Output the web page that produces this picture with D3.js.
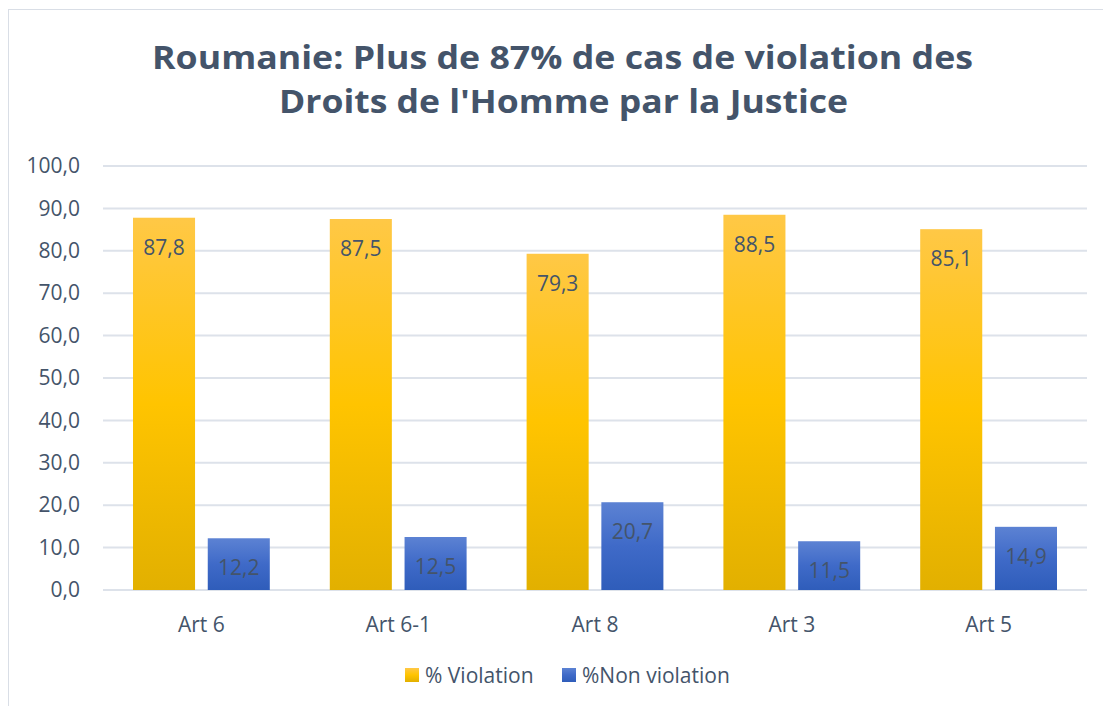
<!DOCTYPE html>
<html>
<head>
<meta charset="utf-8">
<script src="https://cdn.jsdelivr.net/npm/d3@7"></script>
<style>
  body { margin: 0; background: #fff; }
  text { font-family: "Open Sans", sans-serif; fill: #44546A; }
</style>
</head>
<body>
<script>
// data
const categories = ["Art 6", "Art 6-1", "Art 8", "Art 3", "Art 5"];
const seriesNames = ["% Violation", "%Non violation"];
const violation = [87.8, 87.5, 79.3, 88.5, 85.1];
const nonViolation = [12.2, 12.5, 20.7, 11.5, 14.9];
const yTicks = [0, 10, 20, 30, 40, 50, 60, 70, 80, 90, 100];
const titleLines = ["Roumanie: Plus de 87% de cas de violation des", "Droits de l'Homme par la Justice"];

const W = 1103, H = 706;
const margin = {left: 103, right: 16, top: 166, bottom: 116};
const width = W - margin.left - margin.right;
const height = H - margin.top - margin.bottom;

const svg = d3.select("body").append("svg")
  .attr("width", W)
  .attr("height", H);

// chart border (right/bottom outside of picture)
svg.append("rect")
  .attr("x", 8.5).attr("y", 9.5)
  .attr("width", W + 20).attr("height", H + 20)
  .attr("fill", "none")
  .attr("stroke", "#D9DEE6")
  .attr("stroke-width", 1);

const defs = svg.append("defs");
const gradY = defs.append("linearGradient").attr("id", "gY")
  .attr("x1", 0).attr("y1", 0).attr("x2", 0).attr("y2", 1);
gradY.append("stop").attr("offset", "0%").attr("stop-color", "#FFC846");
gradY.append("stop").attr("offset", "50%").attr("stop-color", "#FFC400");
gradY.append("stop").attr("offset", "100%").attr("stop-color", "#E2B000");
const gradB = defs.append("linearGradient").attr("id", "gB")
  .attr("x1", 0).attr("y1", 0).attr("x2", 0).attr("y2", 1);
gradB.append("stop").attr("offset", "0%").attr("stop-color", "#5C82D3");
gradB.append("stop").attr("offset", "50%").attr("stop-color", "#3F6AC8");
gradB.append("stop").attr("offset", "100%").attr("stop-color", "#2F5DBA");
const fills = ["url(#gY)", "url(#gB)"];

// title
svg.append("g").selectAll("text")
  .data(titleLines)
  .enter().append("text")
  .attr("x", (d, i) => i == 0 ? 152 : 279)
  .attr("y", (d, i) => 69 + i * 44)
  .attr("textLength", (d, i) => i == 0 ? 821 : 569)
  .attr("lengthAdjust", "spacingAndGlyphs")
  .style("font-size", "32px")
  .style("font-weight", "bold")
  .text(d => d);

const g = svg.append("g")
  .attr("transform", "translate(" + margin.left + "," + margin.top + ")");

const y = d3.scaleLinear().domain([0, 100]).range([height, 0]);
const x = d3.scaleBand().domain(categories).range([0, width]).paddingInner(0).paddingOuter(0);
const xs = d3.scaleBand().domain(seriesNames).range([30, x.bandwidth() - 30]).paddingInner(0.17);

// gridlines
g.append("g").selectAll("line")
  .data(yTicks)
  .enter().append("line")
  .attr("x1", 0).attr("x2", width)
  .attr("y1", d => y(d)).attr("y2", d => y(d))
  .attr("stroke", "#DDE2EA")
  .attr("stroke-width", 2);

// y axis labels
const yAxis = d3.axisLeft(y).tickValues(yTicks)
  .tickFormat(d => d3.format(".1f")(d).replace(".", ","))
  .tickSize(0).tickPadding(23);
g.append("g").attr("class", "y-axis").call(yAxis)
  .call(a => a.select(".domain").remove())
  .selectAll("text")
  .style("font-size", "21px")
  .style("font-family", "'Open Sans', sans-serif");

// x axis labels
const xAxis = d3.axisBottom(x).tickSize(0).tickPadding(27);
g.append("g").attr("class", "x axis")
  .attr("transform", "translate(0," + height + ")")
  .call(xAxis)
  .call(a => a.select(".domain").remove())
  .selectAll("text")
  .style("font-size", "21px")
  .style("font-family", "'Open Sans', sans-serif");

const rows = [];
categories.forEach((c, i) => {
  rows.push({cat: c, s: 0, v: violation[i]});
  rows.push({cat: c, s: 1, v: nonViolation[i]});
});

g.selectAll("rect.bar")
  .data(rows)
  .enter().append("rect")
  .attr("class", "bar")
  .attr("x", d => x(d.cat) + xs(seriesNames[d.s]))
  .attr("y", d => y(d.v))
  .attr("width", xs.bandwidth())
  .attr("height", d => height - y(d.v))
  .attr("fill", d => fills[d.s]);

g.selectAll("text.val")
  .data(rows)
  .enter().append("text")
  .attr("class", "val")
  .attr("x", d => x(d.cat) + xs(seriesNames[d.s]) + xs.bandwidth() / 2)
  .attr("y", d => y(d.v) + 37)
  .attr("text-anchor", "middle")
  .style("font-size", "21px")
  .text(d => d3.format(".1f")(d.v).replace(".", ","));

// legend
const legend = svg.append("g").attr("transform", "translate(405,668)");
const legX = [0, 157];
const li = legend.selectAll("g")
  .data(seriesNames)
  .enter().append("g")
  .attr("transform", (d, i) => "translate(" + legX[i] + ",0)");
li.append("rect")
  .attr("width", 14).attr("height", 14)
  .attr("fill", (d, i) => fills[i]);
li.append("text")
  .attr("x", 20).attr("y", 15)
  .style("font-size", "21px")
  .text(d => d);
</script>
</body>
</html>
